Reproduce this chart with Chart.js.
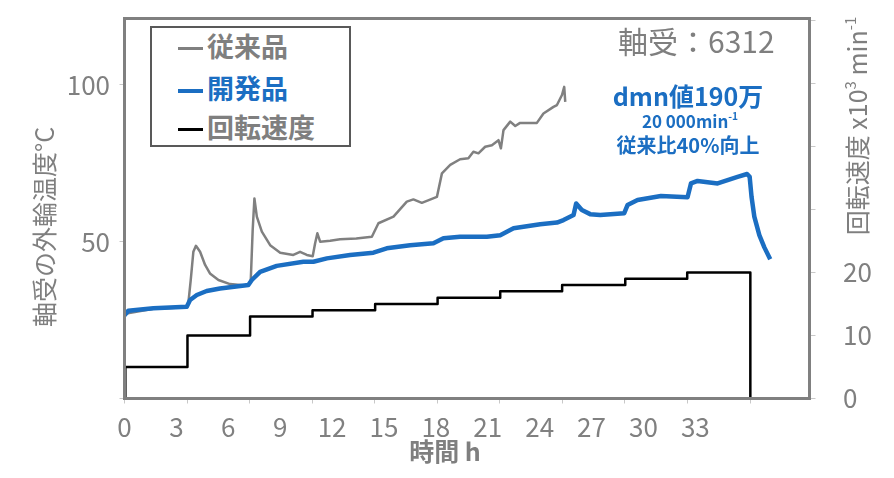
<!DOCTYPE html>
<html>
<head>
<meta charset="utf-8">
<script src="https://cdn.jsdelivr.net/npm/chart.js@4.4.1/dist/chart.umd.min.js"></script>
<style>
  body { margin: 0; background: #fff; }
  #wrap { position: relative; width: 894px; height: 478px; font-family: "Noto Sans CJK JP", sans-serif; }
  #wrap canvas { display: block; }
  .txt { position: absolute; white-space: nowrap; }
  .rot { transform: rotate(-90deg); text-align: center; }
  #legend_box { position: absolute; left: 150px; top: 26px; width: 201px; height: 121px; box-sizing: border-box;
                border: 2px solid #595959; background: #fff; }
  .leg { position: absolute; left: 26px; height: 40px; line-height: 40px; font-size: 27px; font-weight: bold; color: #7f7f7f; white-space: nowrap; }
  .leg i { display: inline-block; width: 25px; height: 3px; vertical-align: middle; margin-right: 4px; position: relative; top: -1px; }
  .blue { color: #1b6ec2; }
  sup { font-size: 0.6em; line-height: 0; vertical-align: 0.75em; }
</style>
</head>
<body>
<div id="wrap">
  <canvas id="bearing_chart" width="894" height="478"></canvas>

  <div id="legend_box">
    <div class="leg" style="top:-2px"><i style="background:#808080"></i>従来品</div>
    <div class="leg" style="top:40px"><span class="blue"><i style="background:#1b6ec2; height:4px"></i>開発品</span></div>
    <div class="leg" style="top:79px"><i style="background:#000"></i>回転速度</div>
  </div>

  <div class="txt" style="left:618px; top:22px; font-size:30px; color:#7f7f7f; line-height:36px;">軸受：6312</div>
  <div class="txt blue" style="left:588px; width:200px; text-align:center; top:79px; font-size:25px; font-weight:bold; line-height:32px;">dmn値190万</div>
  <div class="txt blue" style="left:590px; width:200px; text-align:center; top:109px; font-size:17px; font-weight:bold; line-height:24px;">20 000min<sup>-1</sup></div>
  <div class="txt blue" style="left:588px; width:200px; text-align:center; top:132px; font-size:20px; font-weight:bold; line-height:26px;">従来比40%向上</div>

  <div class="txt rot" style="left:-87px; top:210px; width:260px; height:34px; line-height:34px; font-size:25px; color:#7f7f7f;">軸受の外輪温度°C</div>
  <div class="txt rot" style="left:731px; top:110px; width:250px; height:32px; line-height:32px; font-size:25px; color:#7f7f7f;">回転速度 x10<sup>3</sup> min<sup>-1</sup></div>
  <div class="txt" style="left:395px; width:100px; text-align:center; top:435px; font-size:25px; font-weight:bold; color:#7f7f7f; line-height:30px;">時間 h</div>
</div>

<script>
// ticks that carry a label
var hour_labels = [0, 3, 6, 9, 12, 15, 18, 21, 24, 27, 30, 33];
var temp_labels = [50, 100];
var speed_labels = [0, 10, 20];

// 従来品 (conventional bearing), outer ring temperature
var conv_time = [0, 0.03, 1.67, 3.6, 3.69, 3.83, 3.98, 4.13, 4.37, 4.66, 4.94, 5.43, 6.1, 7.16, 7.3, 7.41, 7.51, 7.65,
  7.94, 8.42, 9.0, 9.76, 10.15, 10.54, 10.88, 11.02, 11.15, 11.31, 11.89, 12.46, 13.4, 14.3, 14.68, 15.55, 16.32,
  16.7, 17.19, 18.06, 18.35, 18.83, 19.4, 19.88, 20.17, 20.46, 20.85, 21.24, 21.62, 21.76, 21.91, 22.3, 22.59,
  22.87, 23.84, 24.22, 24.8, 25.0, 25.29, 25.42, 25.48];
var conv_temp = [26.3, 27.0, 28.6, 29.1, 30.4, 37.8, 46.8, 48.7, 46.8, 42.6, 39.9, 37.8, 36.5, 36.0, 37.8, 53.7, 63.8, 58.0,
  53.2, 48.9, 46.5, 45.8, 46.8, 45.8, 45.4, 49.5, 52.7, 50.0, 50.3, 50.8, 51.0, 51.6, 55.9, 58.0, 62.8,
  63.5, 62.4, 64.3, 71.8, 74.5, 76.3, 76.6, 78.7, 78.2, 80.3, 80.8, 82.4, 79.8, 85.6, 88.3, 86.9,
  87.9, 87.9, 90.9, 93.0, 93.6, 96.8, 99.4, 94.6];

// 開発品 (developed bearing)
var dev_time = [0, 0.22, 1.67, 3.6, 3.79, 4.18, 4.75, 5.52, 7.16, 7.36, 7.84, 8.8, 10.34, 10.92, 11.7, 13.04, 14.39,
  15.16, 16.51, 17.86, 18.44, 19.4, 20.95, 21.72, 22.49, 24.03, 25.0, 25.38, 25.96, 26.11, 26.44, 26.92, 27.5,
  28.89, 29.08, 29.66, 31.01, 32.55, 32.75, 33.13, 34.29, 35.44, 35.99, 36.14, 36.25, 36.41, 36.7, 36.99, 37.33];
var dev_temp = [26.5, 28.0, 28.8, 29.3, 31.4, 33.0, 34.3, 35.1, 36.2, 37.8, 40.4, 42.3, 43.6, 43.6, 44.7, 45.8, 46.5,
  47.9, 48.9, 49.5, 51.1, 51.6, 51.6, 52.1, 54.3, 55.6, 56.1, 56.9, 58.5, 62.2, 60.1, 58.8, 58.5,
  59.1, 61.7, 63.3, 64.6, 64.2, 68.6, 69.4, 68.6, 70.7, 71.6, 70.7, 64.3, 58.0, 52.1, 48.2, 44.4];

// 回転速度 x10^3 min^-1, stepped
var speed_time = [0, 0.05, 3.64, 7.26, 10.87, 14.49, 18.1, 21.72, 25.3, 28.95, 32.53, 36.18];
var speed_value = [0, 5, 10, 13, 14, 15, 16, 17, 18, 19, 20, 0];

function to_points(xs, ys) {
  var pts = [];
  for (var i = 0; i < xs.length; i++) {
    pts.push({x: xs[i], y: ys[i]});
  }
  return pts;
}

var frame_plugin = {
  id: 'frame',
  afterDatasetsDraw: function (chart) {
    var a = chart.chartArea;
    var ctx = chart.ctx;
    ctx.save();
    ctx.strokeStyle = '#808080';
    ctx.lineWidth = 3;
    ctx.strokeRect(a.left, a.top, a.right - a.left, a.bottom - a.top);
    ctx.restore();
  }
};

// fixed axis sizes, and no extra label padding pushing the plot down
function fix_width(w) {
  return function (s) {
    s.width = w;
    s.paddingTop = 0;
    s.paddingBottom = 0;
  };
}

Chart.defaults.font.family = '"Noto Sans CJK JP", sans-serif';
Chart.defaults.color = '#808080';

var tick_font = {size: 26};

new Chart(document.getElementById('bearing_chart'), {
  type: 'line',
  data: {
    datasets: [
      {label: '開発品', data: to_points(dev_time, dev_temp), borderColor: '#1b6ec2', borderWidth: 4.5,
        yAxisID: 'y', order: 0},
      {label: '回転速度', data: to_points(speed_time, speed_value), borderColor: '#000000', borderWidth: 2.5,
        stepped: 'before', yAxisID: 'y2', order: 1},
      {label: '従来品', data: to_points(conv_time, conv_temp), borderColor: '#808080', borderWidth: 2.5,
        yAxisID: 'y', order: 2}
    ]
  },
  options: {
    responsive: false,
    animation: false,
    parsing: false,
    layout: {padding: {top: 18.5, left: 0, right: 0, bottom: 0}},
    elements: {point: {radius: 0}, line: {tension: 0, borderJoinStyle: 'round'}},
    plugins: {legend: {display: false}, tooltip: {enabled: false}},
    scales: {
      x: {
        type: 'linear', position: 'bottom', weight: 1,
        min: 0, max: 39.6,
        border: {display: false},
        grid: {drawOnChartArea: false, drawTicks: false},
        ticks: {
          stepSize: 3, includeBounds: false, autoSkip: false, maxRotation: 0, padding: 5, font: tick_font,
          callback: function (v) { return hour_labels.indexOf(v) >= 0 ? v : ''; }
        },
        afterFit: function (s) { s.height = 71.5; }
      },
      x2: {
        type: 'linear', position: 'bottom', weight: 0,
        min: 0, max: 10.95,
        border: {display: false},
        grid: {drawOnChartArea: false, drawTicks: true, tickLength: 5, color: '#c8c8c8'},
        ticks: {stepSize: 1, includeBounds: false, display: false},
        afterFit: function (s) { s.height = 8; }
      },
      y: {
        type: 'linear', position: 'left',
        min: 0, max: 121.2,
        border: {display: false},
        grid: {drawOnChartArea: false, drawTicks: true, tickLength: 5, color: '#c8c8c8'},
        ticks: {
          stepSize: 50, includeBounds: false, padding: 9.5, font: tick_font,
          callback: function (v) { return temp_labels.indexOf(v) >= 0 ? v : ''; }
        },
        afterFit: fix_width(124.5)
      },
      y2: {
        type: 'linear', position: 'right',
        min: 0, max: 60.3,
        border: {display: false},
        grid: {drawOnChartArea: false, drawTicks: true, tickLength: 6, color: '#c8c8c8'},
        ticks: {
          stepSize: 10, includeBounds: false, padding: 27.5, font: tick_font,
          callback: function (v) { return speed_labels.indexOf(v) >= 0 ? v : ''; }
        },
        afterFit: fix_width(84.5)
      }
    }
  },
  plugins: [frame_plugin]
});
</script>
</body>
</html>
